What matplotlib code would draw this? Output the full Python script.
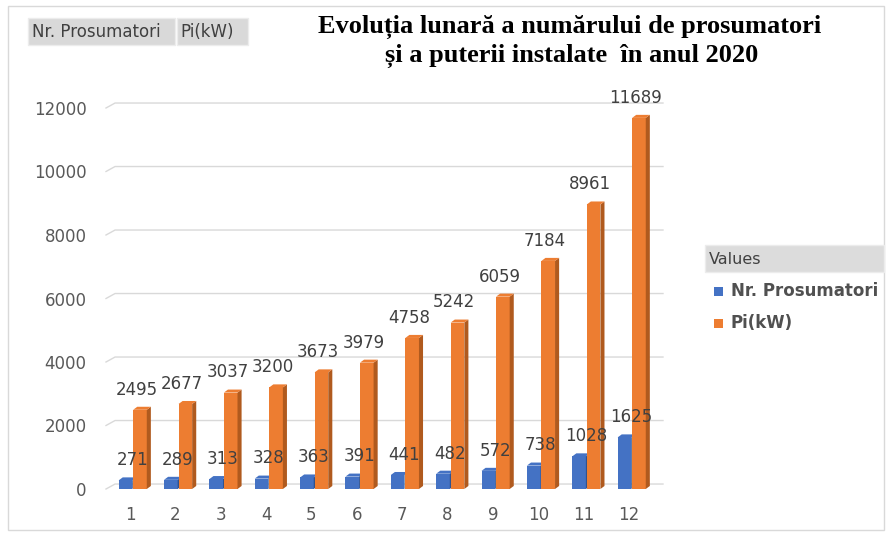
import matplotlib.pyplot as plt
import numpy as np
from matplotlib.patches import Polygon, Rectangle

luni = np.arange(1, 13)
prosumatori = [271, 289, 313, 328, 363, 391, 441, 482, 572, 738, 1028, 1625]
putere = [2495, 2677, 3037, 3200, 3673, 3979, 4758, 5242, 6059, 7184, 8961, 11689]
y_ticks = [0, 2000, 4000, 6000, 8000, 10000, 12000]

albastru = '#4472C4'
albastru_dark = '#2F528F'
portocaliu = '#ED7D31'
portocaliu_dark = '#B05A1E'
text_color = '#404040'
grid_color = '#d9d9d9'

W, H = 889, 534
fig = plt.figure(figsize=(W / 100, H / 100), dpi=100)
ax = fig.add_axes([106 / W, 1 - 489 / H, (663 - 106) / W, (489 - 108) / H])
ax.set_xlim(0.471, 12.75)
ax.set_ylim(0, 12000)

latime = 0.30
dx_side = 0.09   # adancime 3D pe x
dy_side = 95     # adancime 3D pe y

# grila "3D": segment inclinat + linie orizontala in spate
gx0, gx1 = 0.471, 0.471 + 0.2
for v in y_ticks:
    ax.plot([gx0, gx1, 12.75], [v, v + 157, v + 157], color=grid_color,
            lw=1, zorder=1, clip_on=False)


def bare_3d(xs, vals, col, col_dark):
    ax.bar(xs, vals, width=latime, color=col, zorder=3)
    for x, v in zip(xs, vals):
        r = x + latime / 2
        l = x - latime / 2
        side = Polygon([(r, 0), (r + dx_side, dy_side), (r + dx_side, v + dy_side), (r, v)],
                       closed=True, facecolor=col_dark, edgecolor='none', zorder=3)
        top = Polygon([(l, v), (l + dx_side, v + dy_side), (r + dx_side, v + dy_side), (r, v)],
                      closed=True, facecolor=col, edgecolor='none', zorder=3)
        ax.add_patch(side)
        ax.add_patch(top)


x_blue = luni - 0.1
x_orange = luni + 0.22
bare_3d(x_blue, prosumatori, albastru, albastru_dark)
bare_3d(x_orange, putere, portocaliu, portocaliu_dark)

for x, v in zip(luni, prosumatori):
    ax.annotate(str(v), (x + 0.05, v), xytext=(0, 8), textcoords='offset points',
                ha='center', va='bottom', fontsize=12, color=text_color, zorder=5)
for x, v in zip(luni, putere):
    ax.annotate(str(v), (x + 0.15, v), xytext=(0, 8), textcoords='offset points',
                ha='center', va='bottom', fontsize=12, color=text_color, zorder=5,
                annotation_clip=False)

ax.set_yticks(y_ticks)
ax.set_xticks(luni)
ax.set_xticklabels([str(i) for i in luni])
ax.tick_params(axis='y', length=0, pad=14, labelsize=12, labelcolor='#595959')
ax.tick_params(axis='x', length=0, pad=12, labelsize=12, labelcolor='#595959')
for s in ax.spines.values():
    s.set_visible(False)

# titlu
fig.text(570 / W, 1 - 27 / H, 'Evoluția lunară a numărului de prosumatori',
         ha='center', va='center', fontsize=19, fontweight='bold',
         family='Liberation Serif')
fig.text(572 / W, 1 - 56 / H, 'și a puterii instalate  în anul 2020',
         ha='center', va='center', fontsize=19, fontweight='bold',
         family='Liberation Serif')


def fig_rect(x0, y0, x1, y1, **kw):
    r = Rectangle((x0 / W, 1 - y1 / H), (x1 - x0) / W, (y1 - y0) / H,
                  transform=fig.transFigure, **kw)
    fig.patches.append(r)


# chenar exterior
fig_rect(8, 6, 884, 530, facecolor='none', edgecolor=grid_color, linewidth=1)

# butoane de camp
fig_rect(28, 18, 175, 45, facecolor='#d9d9d9', edgecolor='#ececec')
fig_rect(177, 18, 248, 45, facecolor='#d9d9d9', edgecolor='#ececec')
fig.text(32 / W, 1 - 32 / H, 'Nr. Prosumatori', ha='left', va='center',
         fontsize=12, color=text_color)
fig.text(180 / W, 1 - 32 / H, 'Pi(kW)', ha='left', va='center',
         fontsize=12, color=text_color)

# legenda
fig_rect(705, 245, 884, 272, facecolor='#dcdcdc', edgecolor='#ececec')
fig.text(709 / W, 1 - 259 / H, 'Values', ha='left', va='center',
         fontsize=11.5, color=text_color)
fig_rect(714, 287, 723, 296, facecolor=albastru, edgecolor='none')
fig.text(731 / W, 1 - 291 / H, 'Nr. Prosumatori', ha='left', va='center',
         fontsize=12, fontweight='bold', color='#505050')
fig_rect(714, 319, 723, 328, facecolor=portocaliu, edgecolor='none')
fig.text(731 / W, 1 - 323 / H, 'Pi(kW)', ha='left', va='center',
         fontsize=12, fontweight='bold', color='#505050')

fig.savefig('out.png', dpi=100)
